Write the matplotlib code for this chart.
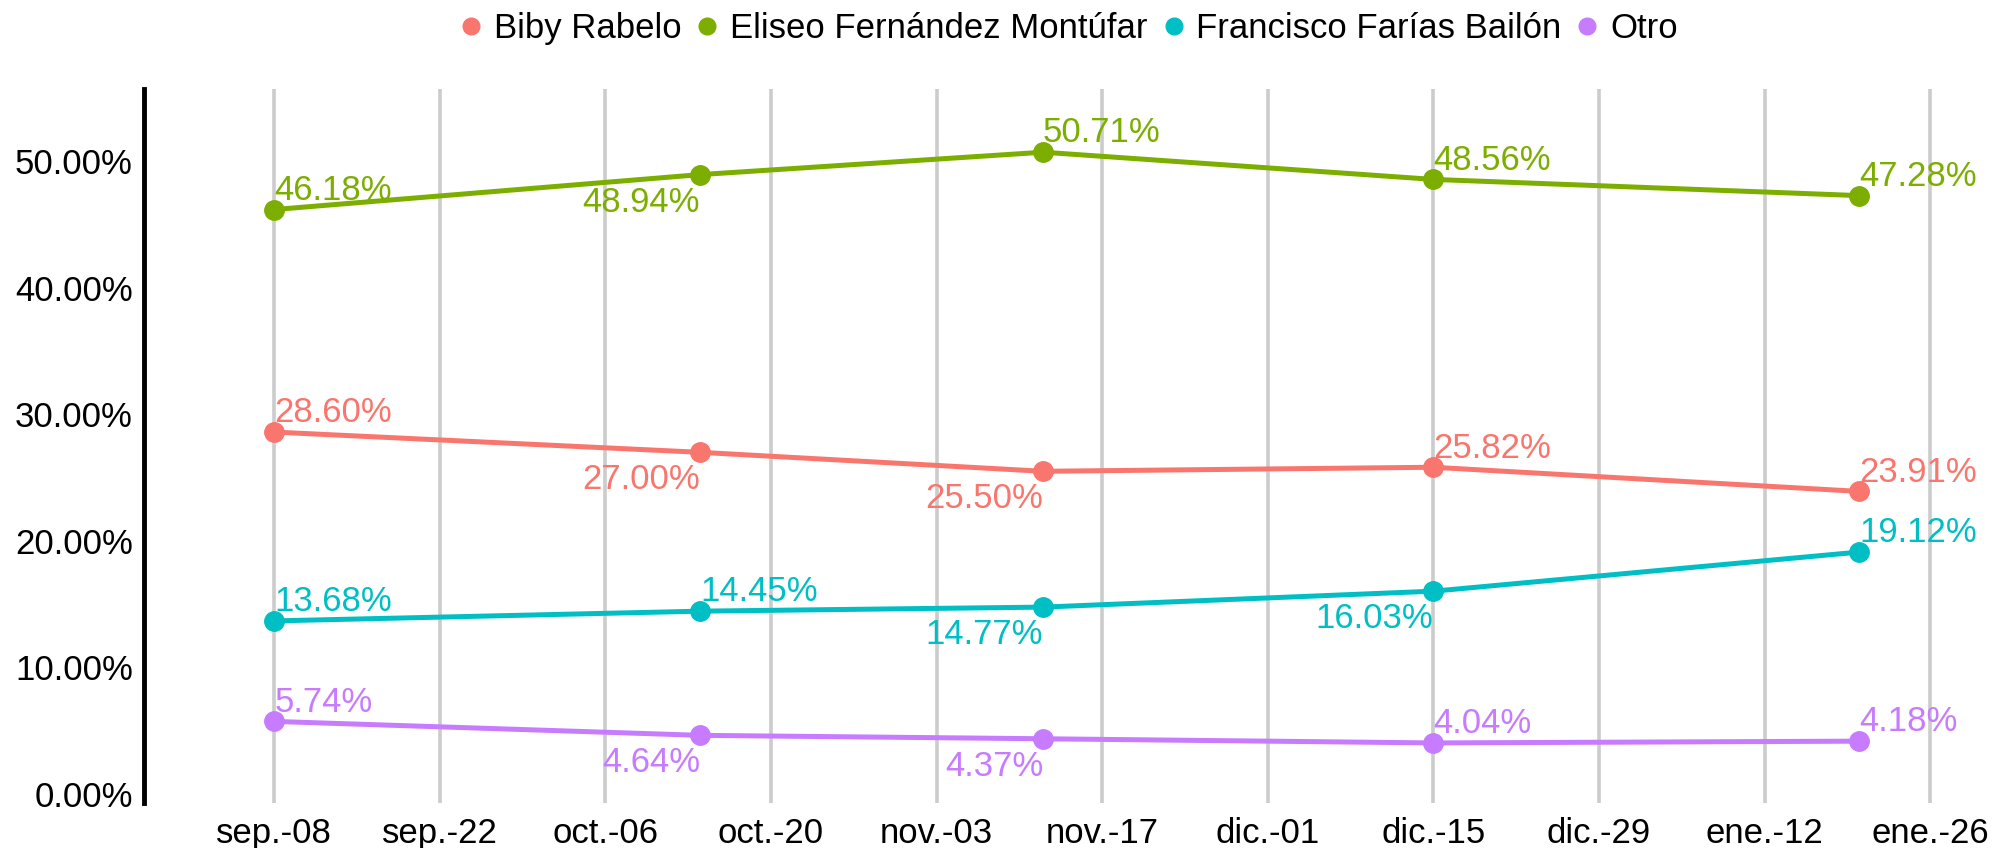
import matplotlib
matplotlib.use("Agg")
import matplotlib.pyplot as plt
from matplotlib.lines import Line2D
import pandas as pd

plt.rcParams['font.family'] = ['Liberation Sans', 'DejaVu Sans']

# encuestas
fechas = pd.to_datetime(['2024-09-08', '2024-10-14', '2024-11-12', '2024-12-15', '2025-01-20'])
candidatos = ['Biby Rabelo', 'Eliseo Fernández Montúfar', 'Francisco Farías Bailón', 'Otro']
biby = [28.60, 27.00, 25.50, 25.82, 23.91]
eliseo = [46.18, 48.94, 50.71, 48.56, 47.28]
francisco = [13.68, 14.45, 14.77, 16.03, 19.12]
otro = [5.74, 4.64, 4.37, 4.04, 4.18]
# where each label sits: 'a' = above/right, 'b' = below/left
pos_biby = ['a', 'b', 'b', 'a', 'a']
pos_eliseo = ['a', 'b', 'a', 'a', 'a']
pos_francisco = ['a', 'a', 'b', 'b', 'a']
pos_otro = ['a', 'b', 'b', 'a', 'a']

colores = ['#F8766D', '#7CAE00', '#00BFC4', '#C77CFF']
series = [biby, eliseo, francisco, otro]
posiciones = [pos_biby, pos_eliseo, pos_francisco, pos_otro]

ticks = pd.date_range('2024-09-08', '2025-01-26', freq='14D')
meses = {9: 'sep.', 10: 'oct.', 11: 'nov.', 12: 'dic.', 1: 'ene.'}
tick_labels = [f"{meses[t.month]}-{t.day:02d}" for t in ticks]

FS = 25

fig = plt.figure(figsize=(19.92, 8.48), dpi=100)
ax = fig.add_axes([0.0723, 0.053, 0.916, 0.842])

for vals, col, pos in zip(series, colores, posiciones):
    ax.plot(fechas, vals, color=col, lw=3.6, marker='o', ms=14, zorder=3)
    for x, y, p in zip(fechas, vals, pos):
        if p == 'a':
            ax.annotate(f"{y:.2f}%", (x, y), xytext=(0, 7), textcoords='offset points',
                        ha='left', va='baseline', color=col, fontsize=FS)
        else:
            ax.annotate(f"{y:.2f}%", (x, y), xytext=(0, -8), textcoords='offset points',
                        ha='right', va='top', color=col, fontsize=FS)

ax.set_xlim(pd.Timestamp('2024-08-28'), pd.Timestamp('2025-01-29 06:00'))
ax.set_ylim(-0.71, 55.7)
ax.set_xticks(ticks)
ax.set_xticklabels(tick_labels)
ax.set_yticks([0, 10, 20, 30, 40, 50])
ax.set_yticklabels([f"{v:.2f}%" for v in [0, 10, 20, 30, 40, 50]])
ax.tick_params(axis='both', length=0, labelsize=FS, colors='black')
ax.tick_params(axis='y', pad=8)
ax.tick_params(axis='x', pad=10)

ax.grid(axis='x', color='#cccccc', lw=2.6)
ax.grid(axis='y', visible=False)
ax.set_axisbelow(True)
for s in ['top', 'right', 'bottom']:
    ax.spines[s].set_visible(False)
ax.spines['left'].set_linewidth(3.5)
ax.spines['left'].set_color('black')

handles = [Line2D([], [], marker='o', ls='', color=c, ms=12) for c in colores]
fig.legend(handles, candidatos, loc='center', bbox_to_anchor=(0.535, 0.966), ncol=4,
           frameon=False, fontsize=FS, handletextpad=0.15, columnspacing=0.25,
           handlelength=1.0)

fig.savefig('out.png', dpi=100)
